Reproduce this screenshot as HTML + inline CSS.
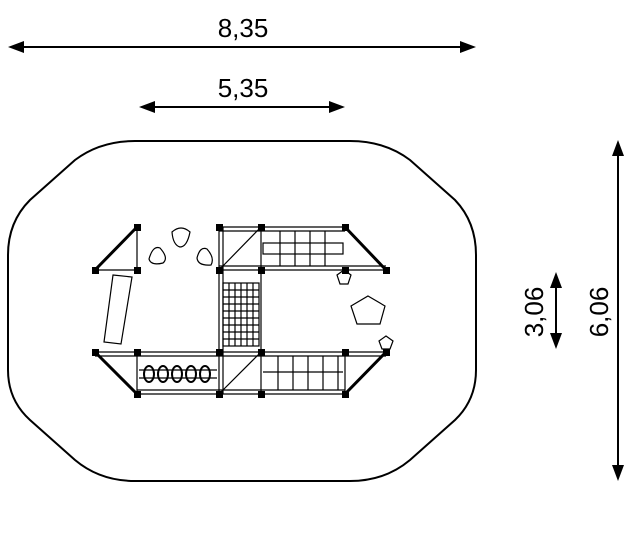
<!DOCTYPE html>
<html><head><meta charset="utf-8"><style>
body{margin:0;background:#fff}
svg{display:block}
text{font-family:"Liberation Sans",sans-serif;font-size:26px;fill:#000}
</style></head><body>
<svg width="630" height="552" viewBox="0 0 630 552" xmlns="http://www.w3.org/2000/svg">
<g stroke="#000" stroke-width="2">
<line x1="20" y1="47" x2="464" y2="47"/>
<line x1="152" y1="107" x2="332" y2="107"/>
<line x1="618" y1="153" x2="618" y2="468"/>
<line x1="556" y1="285" x2="556" y2="336"/>
</g>
<g fill="#000">
<polygon points="8,47 24,41 24,53"/><polygon points="476,47 460,41 460,53"/>
<polygon points="139,107 155,101 155,113"/><polygon points="345,107 329,101 329,113"/>
<polygon points="618,140 612,156 624,156"/><polygon points="618,481 612,465 624,465"/>
<polygon points="556,272 550,288 562,288"/><polygon points="556,349 550,333 562,333"/>
</g>
<text x="243" y="37" text-anchor="middle">8,35</text>
<text x="243" y="97" text-anchor="middle">5,35</text>
<text transform="translate(608,312) rotate(-90)" text-anchor="middle">6,06</text>
<text transform="translate(543,312) rotate(-90)" text-anchor="middle">3,06</text>
<path d="M135,141 L350,141 Q385,141 410,160 L455,200 Q476,222 476,255 L476,370 Q476,400 455,420 L410,460 Q385,481 350,481 L135,481 Q100,481 75,460 L30,420 Q8,400 8,370 L8,255 Q8,222 30,200 L75,160 Q100,141 135,141 Z" fill="none" stroke="#000" stroke-width="2"/>
<g stroke="#000" fill="none" stroke-width="1.2">
<line x1="95" y1="270" x2="137" y2="270"/><line x1="137" y1="227" x2="137" y2="270"/>
<line x1="95" y1="270" x2="137" y2="227" stroke-width="3"/>
<line x1="219" y1="227" x2="345" y2="227"/><line x1="219" y1="231" x2="345" y2="231"/>
<line x1="219" y1="270" x2="386" y2="270"/><line x1="219" y1="266" x2="386" y2="266"/>
<line x1="219" y1="227" x2="219" y2="394"/><line x1="223" y1="227" x2="223" y2="394"/>
<line x1="261" y1="227" x2="261" y2="394"/>
<line x1="219" y1="270" x2="261" y2="227"/><line x1="219" y1="394" x2="261" y2="352"/>
<line x1="345" y1="227" x2="386" y2="270" stroke-width="3"/>
<line x1="95" y1="352" x2="386" y2="352"/><line x1="95" y1="356" x2="386" y2="356"/>
<line x1="137" y1="394" x2="345" y2="394"/><line x1="137" y1="390" x2="345" y2="390"/>
<line x1="137" y1="352" x2="137" y2="394"/>
<line x1="95" y1="352" x2="137" y2="394" stroke-width="3"/>
<line x1="386" y1="352" x2="345" y2="394" stroke-width="3"/>
<line x1="345" y1="352" x2="345" y2="394"/>
<rect x="263" y="243" width="80" height="11"/>
<path d="M280,231 v35 M295,231 v35 M310,231 v35 M325,231 v35"/>
<rect x="223" y="283" width="36" height="63"/>
<path d="M229,283v63M235,283v63M241,283v63M247,283v63M253,283v63M223,290h36M223,297h36M223,304h36M223,311h36M223,318h36M223,325h36M223,332h36M223,339h36"/>
<path d="M263,372h80M278,356v34M293,356v34M308,356v34M323,356v34M338,356v34"/>
<path d="M139,370h78M139,378h78"/>
<g stroke-width="2"><ellipse cx="149" cy="374" rx="5" ry="8"/><ellipse cx="163" cy="374" rx="5" ry="8"/><ellipse cx="177" cy="374" rx="5" ry="8"/><ellipse cx="191" cy="374" rx="5" ry="8"/><ellipse cx="205" cy="374" rx="5" ry="8"/></g>
<polygon points="113,275 132,277 121,344 104,342"/>
<path d="M172,232 Q181,224 190,232 Q187,247 180,247 Q173,245 172,232Z"/>
<path d="M149,259 Q153,245 160,248 Q169,258 163,263 Q151,266 149,259Z"/>
<path d="M197,258 Q200,246 207,249 Q215,258 211,265 Q198,266 197,258Z"/>
<polygon points="368,296 385,306 380,324 357,324 351,306"/>
<polygon points="344,270 351,275 348,284 340,284 337,275"/>
<polygon points="386,336 393,341 390,349 382,349 379,341"/>
</g>
<g fill="#000">
<rect x="92" y="267" width="7" height="7"/><rect x="134" y="224" width="7" height="7"/><rect x="134" y="267" width="7" height="7"/>
<rect x="216" y="224" width="7" height="7"/><rect x="258" y="224" width="7" height="7"/><rect x="342" y="224" width="7" height="7"/>
<rect x="216" y="267" width="7" height="7"/><rect x="258" y="267" width="7" height="7"/><rect x="342" y="267" width="7" height="7"/><rect x="383" y="267" width="7" height="7"/>
<rect x="92" y="349" width="7" height="7"/><rect x="134" y="349" width="7" height="7"/><rect x="216" y="349" width="7" height="7"/><rect x="258" y="349" width="7" height="7"/><rect x="342" y="349" width="7" height="7"/><rect x="383" y="349" width="7" height="7"/>
<rect x="134" y="391" width="7" height="7"/><rect x="216" y="391" width="7" height="7"/><rect x="258" y="391" width="7" height="7"/><rect x="342" y="391" width="7" height="7"/>
</g>
</svg>
</body></html>
